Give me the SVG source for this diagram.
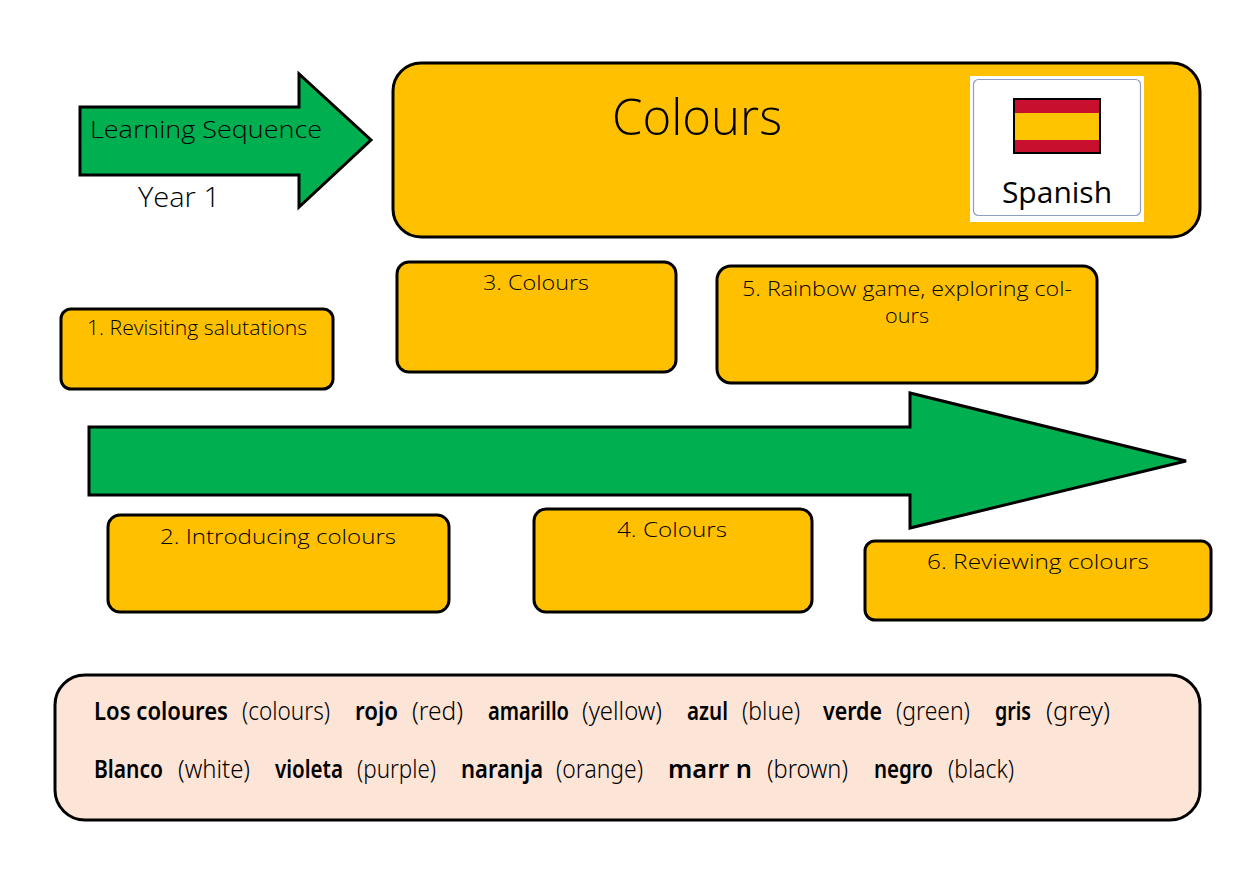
<svg xmlns="http://www.w3.org/2000/svg" width="1260" height="891" viewBox="0 0 1260 891">
<style>
.box{fill:#FFC000;stroke:#000;stroke-width:3}
.arrow{fill:#00B050;stroke:#000;stroke-width:3;stroke-linejoin:miter}
.hand{font-family:"Open Sans","Lato","DejaVu Sans",sans-serif;font-weight:300;fill:#000}
.lbl{font-size:21px;text-anchor:middle}
.voc{font-family:"Noto Sans","Open Sans","DejaVu Sans",sans-serif;font-size:25px;fill:#000}
.b{font-weight:600}
.n{font-weight:300}
</style>
<rect width="1260" height="891" fill="#fff"/>
<g id="arrows">
  <g id="arrow-small">
    <polygon class="arrow" points="80,107 299,107 299,74 371,140 299,207 299,175 80,175"/>
    <text class="hand" x="90" y="138" font-size="24" textLength="232" lengthAdjust="spacingAndGlyphs">Learning Sequence</text>
    <text class="hand" x="138" y="207" font-size="28" textLength="82" lengthAdjust="spacingAndGlyphs">Year 1</text>
  </g>
  <g id="arrow-big">
    <polygon class="arrow" points="89,427 910,427 910,393 1186,461 910,528 910,495 89,495"/>
  </g>
</g>
<g id="title">
  <rect class="box" x="393" y="63" width="807" height="174" rx="28"/>
  <text class="hand" x="697" y="135" font-size="50" text-anchor="middle" textLength="170" lengthAdjust="spacingAndGlyphs">Colours</text>
</g>
<g id="spanish-card">
  <rect x="970" y="76" width="174" height="146" fill="#fff"/>
  <rect x="973.5" y="79.5" width="167" height="136" rx="5" fill="none" stroke="#8E9CC8" stroke-width="1.2"/>
  <rect x="1014" y="99" width="86" height="54" fill="#C8102E"/>
  <rect x="1014" y="113" width="86" height="27" fill="#FFC400"/>
  <rect x="1014" y="99" width="86" height="54" fill="none" stroke="#000" stroke-width="2"/>
  <text x="1057" y="203" font-family="Open Sans, Noto Sans, sans-serif" font-size="30" text-anchor="middle" fill="#000">Spanish</text>
</g>
<g id="step1">
  <rect class="box" x="61" y="309" width="272" height="80" rx="10"/>
  <text class="hand lbl" x="197" y="335" textLength="220" lengthAdjust="spacingAndGlyphs">1. Revisiting salutations</text>
</g>
<g id="step3">
  <rect class="box" x="397" y="262" width="279" height="110" rx="12"/>
  <text class="hand lbl" x="536" y="290" textLength="106" lengthAdjust="spacingAndGlyphs">3. Colours</text>
</g>
<g id="step5">
  <rect class="box" x="717" y="266" width="380" height="117" rx="14"/>
  <text class="hand lbl" x="907" y="296" textLength="330" lengthAdjust="spacingAndGlyphs">5. Rainbow game, exploring col-</text>
  <text class="hand lbl" x="907" y="323" textLength="44" lengthAdjust="spacingAndGlyphs">ours</text>
</g>
<g id="step2">
  <rect class="box" x="108" y="515" width="341" height="97" rx="12"/>
  <text class="hand lbl" x="278" y="544" textLength="236" lengthAdjust="spacingAndGlyphs">2. Introducing colours</text>
</g>
<g id="step4">
  <rect class="box" x="534" y="509" width="278" height="103" rx="12"/>
  <text class="hand lbl" x="672" y="537" textLength="110" lengthAdjust="spacingAndGlyphs">4. Colours</text>
</g>
<g id="step6">
  <rect class="box" x="865" y="541" width="346" height="79" rx="10"/>
  <text class="hand lbl" x="1038" y="569" textLength="222" lengthAdjust="spacingAndGlyphs">6. Reviewing colours</text>
</g>
<g id="vocabulary">
  <rect x="55" y="675" width="1145" height="145" rx="30" fill="#FCE4D6" stroke="#000" stroke-width="3"/>
  <text class="voc" y="720"><tspan class="b" x="94" textLength="134" lengthAdjust="spacingAndGlyphs">Los coloures</tspan><tspan class="n" x="242" textLength="88" lengthAdjust="spacingAndGlyphs">(colours)</tspan><tspan class="b" x="355" textLength="43" lengthAdjust="spacingAndGlyphs">rojo</tspan><tspan class="n" x="412" textLength="51" lengthAdjust="spacingAndGlyphs">(red)</tspan><tspan class="b" x="488" textLength="81" lengthAdjust="spacingAndGlyphs">amarillo</tspan><tspan class="n" x="582" textLength="80" lengthAdjust="spacingAndGlyphs">(yellow)</tspan><tspan class="b" x="687" textLength="41" lengthAdjust="spacingAndGlyphs">azul</tspan><tspan class="n" x="742" textLength="58" lengthAdjust="spacingAndGlyphs">(blue)</tspan><tspan class="b" x="823" textLength="59" lengthAdjust="spacingAndGlyphs">verde</tspan><tspan class="n" x="896" textLength="74" lengthAdjust="spacingAndGlyphs">(green)</tspan><tspan class="b" x="995" textLength="36" lengthAdjust="spacingAndGlyphs">gris</tspan><tspan class="n" x="1046" textLength="64" lengthAdjust="spacingAndGlyphs">(grey)</tspan></text>
  <text class="voc" y="778"><tspan class="b" x="94" textLength="69" lengthAdjust="spacingAndGlyphs">Blanco</tspan><tspan class="n" x="178" textLength="72" lengthAdjust="spacingAndGlyphs">(white)</tspan><tspan class="b" x="275" textLength="68" lengthAdjust="spacingAndGlyphs">violeta</tspan><tspan class="n" x="357" textLength="79" lengthAdjust="spacingAndGlyphs">(purple)</tspan><tspan class="b" x="461" textLength="82" lengthAdjust="spacingAndGlyphs">naranja</tspan><tspan class="n" x="556" textLength="87" lengthAdjust="spacingAndGlyphs">(orange)</tspan><tspan class="b" x="668" textLength="84" lengthAdjust="spacingAndGlyphs">marr n</tspan><tspan class="n" x="767" textLength="81" lengthAdjust="spacingAndGlyphs">(brown)</tspan><tspan class="b" x="874" textLength="59" lengthAdjust="spacingAndGlyphs">negro</tspan><tspan class="n" x="948" textLength="66" lengthAdjust="spacingAndGlyphs">(black)</tspan></text>
</g>
</svg>
